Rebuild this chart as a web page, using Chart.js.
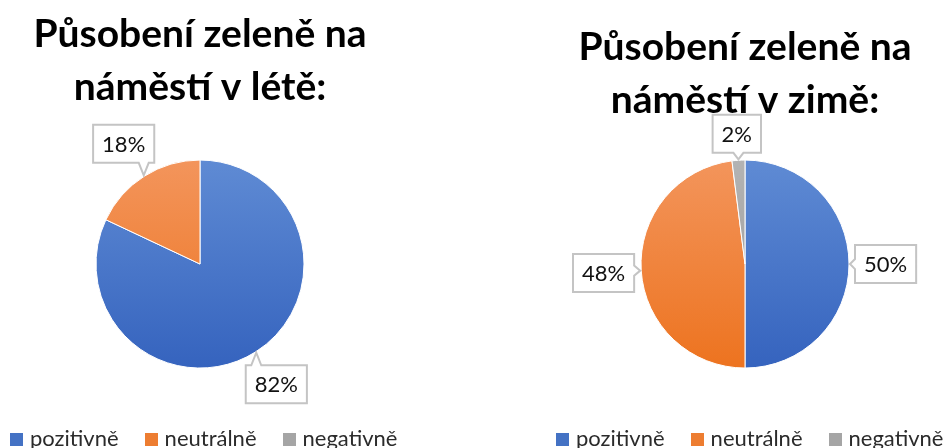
<!DOCTYPE html>
<html>
<head>
<meta charset="utf-8">
<script src="https://cdn.jsdelivr.net/npm/chart.js@4/dist/chart.umd.min.js"></script>
<style>
  html, body { margin: 0; padding: 0; background: #fff; overflow: hidden; }
  body { width: 947px; height: 448px; position: relative; }
  .box { position: absolute; top: 0; width: 400px; height: 448px; }
  .legend { position: absolute; top: 422px; height: 30px; font: 22px Lato, sans-serif; color: #2b2b2b; white-space: nowrap; }
  .legend span.item { display: inline-flex; align-items: center; margin-right: 26px; }
  .legend i { display: inline-block; width: 13px; height: 13px; margin-right: 7px; position: relative; top: 2px; }
</style>
</head>
<body>
<div class="box" style="left:0"><canvas id="leto"></canvas></div>
<div class="box" style="left:545px"><canvas id="zima"></canvas></div>
<div class="legend" id="legLeto" style="left:10px"></div>
<div class="legend" id="legZima" style="left:556px"></div>
<script>
const CATEGORIES = ["pozitivně", "neutrálně", "negativně"];
const SUMMER = [82, 18, 0];
const WINTER = [50, 48, 2];
const TITLE_SUMMER = ["Působení zeleně na", "náměstí v létě:"];
const TITLE_WINTER = ["Působení zeleně na", "náměstí v zimě:"];

// top / bottom colours of the vertical gradient on each slice
const SHADES = [
  ["#5f8bd4", "#3563be"],
  ["#f3955c", "#ed731f"],
  ["#b3b3b3", "#989898"]
];
const LEGEND_COLORS = ["#4472c4", "#ed7d31", "#a5a5a5"];

function sliceColor(ctx) {
  const chart = ctx.chart;
  const area = chart.chartArea;
  const shade = SHADES[ctx.dataIndex];
  if (!area) return shade[1];
  const cy = (area.top + area.bottom) / 2;
  const g = chart.ctx.createLinearGradient(0, cy - 105, 0, cy + 105);
  g.addColorStop(0, shade[0]);
  g.addColorStop(1, shade[1]);
  return g;
}

function clamp(v, a, b) { return Math.max(a, Math.min(b, v)); }

// percentage callouts outside the pie
const callouts = {
  id: "callouts",
  afterDatasetsDraw(chart) {
    const ctx = chart.ctx;
    const meta = chart.getDatasetMeta(0);
    const data = chart.data.datasets[0].data;
    ctx.save();
    ctx.font = "22px Lato";
    meta.data.forEach((arc, i) => {
      if (!data[i]) return;
      const p = arc.getProps(["x", "y", "startAngle", "endAngle", "outerRadius"], true);
      const mid = (p.startAngle + p.endAngle) / 2;
      const dx = Math.cos(mid), dy = Math.sin(mid);
      const text = data[i] + "%";
      const w = ctx.measureText(text).width + 18;
      const h = 38;
      const ext = Math.abs(dx) * w / 2 + Math.abs(dy) * h / 2;
      const dist = p.outerRadius + 6 + ext;
      const cx = p.x + dx * dist, cy = p.y + dy * dist;
      const x0 = cx - w / 2, x1 = cx + w / 2, y0 = cy - h / 2, y1 = cy + h / 2;
      const tx = p.x + dx * (p.outerRadius + 1), ty = p.y + dy * (p.outerRadius + 1);
      const pw = 5;
      ctx.beginPath();
      ctx.moveTo(x0, y0);
      if (ty < y0) {
        const c = clamp(tx, x0 + pw, x1 - pw);
        ctx.lineTo(c - pw, y0); ctx.lineTo(tx, ty); ctx.lineTo(c + pw, y0);
      }
      ctx.lineTo(x1, y0);
      if (tx > x1 && ty >= y0 && ty <= y1) {
        const c = clamp(ty, y0 + pw, y1 - pw);
        ctx.lineTo(x1, c - pw); ctx.lineTo(tx, ty); ctx.lineTo(x1, c + pw);
      }
      ctx.lineTo(x1, y1);
      if (ty > y1) {
        const c = clamp(tx, x0 + pw, x1 - pw);
        ctx.lineTo(c + pw, y1); ctx.lineTo(tx, ty); ctx.lineTo(c - pw, y1);
      }
      ctx.lineTo(x0, y1);
      if (tx < x0 && ty >= y0 && ty <= y1) {
        const c = clamp(ty, y0 + pw, y1 - pw);
        ctx.lineTo(x0, c + pw); ctx.lineTo(tx, ty); ctx.lineTo(x0, c - pw);
      }
      ctx.closePath();
      ctx.fillStyle = "#fff";
      ctx.fill();
      ctx.lineWidth = 2;
      ctx.strokeStyle = "#c4c4c4";
      ctx.stroke();
      ctx.fillStyle = "#111";
      ctx.textAlign = "center";
      ctx.textBaseline = "middle";
      ctx.fillText(text, cx, cy + 1);
    });
    ctx.restore();
  }
};

function makePie(id, values, title, titlePad) {
  return new Chart(document.getElementById(id), {
    type: "pie",
    data: {
      labels: CATEGORIES,
      datasets: [{
        data: values,
        backgroundColor: sliceColor,
        borderColor: "#fff",
        borderWidth: 1,
        radius: 104
      }]
    },
    plugins: [callouts],
    options: {
      responsive: false,
      animation: false,
      layout: { padding: { bottom: 47 } },
      plugins: {
        title: {
          display: true,
          text: title,
          color: "#000",
          font: { family: "Lato", size: 39, weight: "bold", lineHeight: 1.36 },
          padding: titlePad
        },
        legend: { display: false },
        tooltip: { enabled: false }
      }
    }
  });
}

function makeLegend(id) {
  const el = document.getElementById(id);
  CATEGORIES.forEach((c, i) => {
    const item = document.createElement("span");
    item.className = "item";
    const sw = document.createElement("i");
    sw.style.background = LEGEND_COLORS[i];
    item.appendChild(sw);
    item.appendChild(document.createTextNode(c));
    el.appendChild(item);
  });
}

document.querySelectorAll("canvas").forEach(c => { c.width = 400; c.height = 448; });
makePie("leto", SUMMER, TITLE_SUMMER, { top: 8, bottom: 13 });
makePie("zima", WINTER, TITLE_WINTER, { top: 21, bottom: 0 });
makeLegend("legLeto");
makeLegend("legZima");
</script>
</body>
</html>
